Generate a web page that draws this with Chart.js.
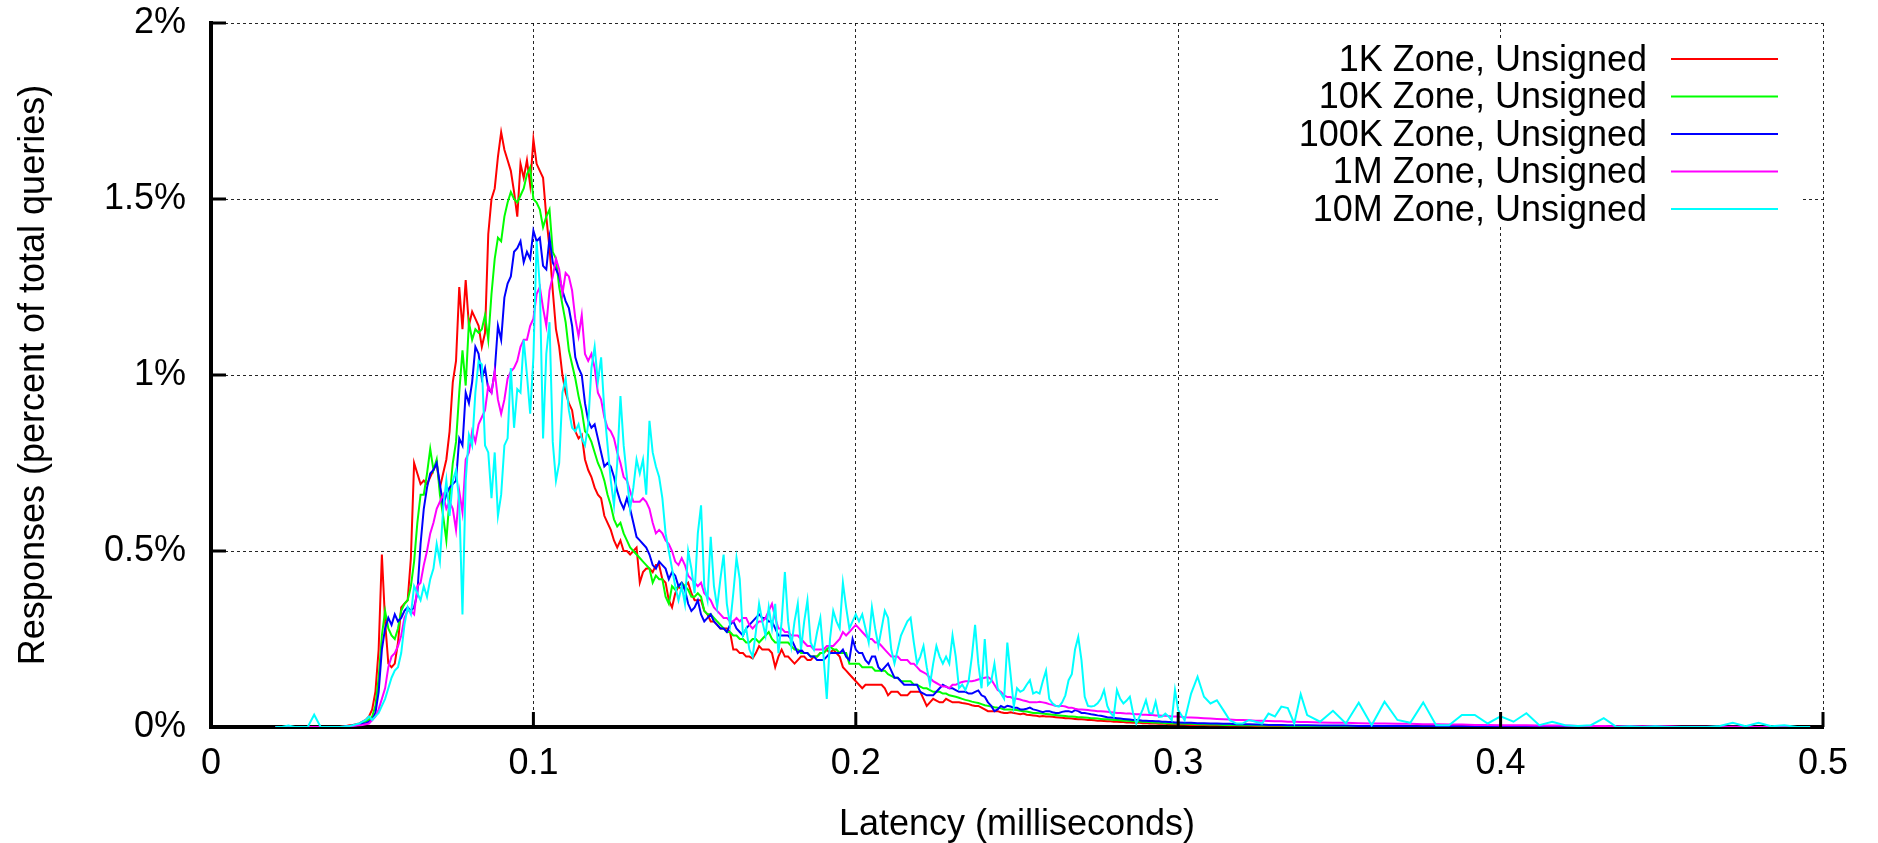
<!DOCTYPE html>
<html>
<head>
<meta charset="utf-8">
<title>Latency distribution, unsigned zones</title>
<script src="https://cdn.jsdelivr.net/npm/chart.js@4.4.1/dist/chart.umd.min.js"></script>
<style>
    html, body {
        margin: 0;
        padding: 0;
        background: #fff;
    }

    #wrap {
        width: 1878px;
        height: 843px;
    }
</style>
</head>
<body>
<div id="wrap"><canvas id="latencyChart"></canvas></div>
<script>
// latency buckets (ms), 10 per line
const latencyMs = [
    0.020, 0.022, 0.024, 0.026, 0.028, 0.030, 0.032, 0.034, 0.036, 0.038,
    0.040, 0.041, 0.042, 0.043, 0.044, 0.045, 0.046, 0.047, 0.048, 0.049,
    0.050, 0.051, 0.052, 0.053, 0.054, 0.055, 0.056, 0.057, 0.058, 0.059,
    0.060, 0.061, 0.062, 0.063, 0.064, 0.065, 0.066, 0.067, 0.068, 0.069,
    0.070, 0.071, 0.072, 0.073, 0.074, 0.075, 0.076, 0.077, 0.078, 0.079,
    0.080, 0.081, 0.082, 0.083, 0.084, 0.085, 0.086, 0.087, 0.088, 0.089,
    0.090, 0.091, 0.092, 0.093, 0.094, 0.095, 0.096, 0.097, 0.098, 0.099,
    0.100, 0.101, 0.102, 0.103, 0.104, 0.105, 0.106, 0.107, 0.108, 0.109,
    0.110, 0.111, 0.112, 0.113, 0.114, 0.115, 0.116, 0.117, 0.118, 0.119,
    0.120, 0.121, 0.122, 0.123, 0.124, 0.125, 0.126, 0.127, 0.128, 0.129,
    0.130, 0.131, 0.132, 0.133, 0.134, 0.135, 0.136, 0.137, 0.138, 0.139,
    0.140, 0.141, 0.142, 0.143, 0.144, 0.145, 0.146, 0.147, 0.148, 0.149,
    0.150, 0.151, 0.152, 0.153, 0.154, 0.155, 0.156, 0.157, 0.158, 0.159,
    0.160, 0.161, 0.162, 0.163, 0.164, 0.165, 0.166, 0.167, 0.168, 0.169,
    0.170, 0.171, 0.172, 0.173, 0.174, 0.175, 0.176, 0.177, 0.178, 0.179,
    0.180, 0.181, 0.182, 0.183, 0.184, 0.185, 0.186, 0.187, 0.188, 0.189,
    0.190, 0.191, 0.192, 0.193, 0.194, 0.195, 0.196, 0.197, 0.198, 0.199,
    0.200, 0.201, 0.202, 0.203, 0.204, 0.205, 0.206, 0.207, 0.208, 0.209,
    0.210, 0.211, 0.212, 0.213, 0.214, 0.215, 0.216, 0.217, 0.218, 0.219,
    0.220, 0.221, 0.222, 0.223, 0.224, 0.225, 0.226, 0.227, 0.228, 0.229,
    0.230, 0.231, 0.232, 0.233, 0.234, 0.235, 0.236, 0.237, 0.238, 0.239,
    0.240, 0.241, 0.242, 0.243, 0.244, 0.245, 0.246, 0.247, 0.248, 0.249,
    0.250, 0.251, 0.252, 0.253, 0.254, 0.255, 0.256, 0.257, 0.258, 0.259,
    0.260, 0.261, 0.262, 0.263, 0.264, 0.265, 0.266, 0.267, 0.268, 0.269,
    0.270, 0.271, 0.272, 0.273, 0.274, 0.275, 0.276, 0.277, 0.278, 0.279,
    0.280, 0.281, 0.282, 0.283, 0.284, 0.285, 0.286, 0.287, 0.288, 0.289,
    0.290, 0.291, 0.292, 0.293, 0.294, 0.295, 0.296, 0.297, 0.298, 0.299,
    0.300, 0.302, 0.304, 0.306, 0.308, 0.310, 0.312, 0.314, 0.316, 0.318,
    0.320, 0.322, 0.324, 0.326, 0.328, 0.330, 0.332, 0.334, 0.336, 0.338,
    0.340, 0.344, 0.348, 0.352, 0.356, 0.360, 0.364, 0.368, 0.372, 0.376,
    0.380, 0.384, 0.388, 0.392, 0.396, 0.400, 0.404, 0.408, 0.412, 0.416,
    0.420, 0.424, 0.428, 0.432, 0.436, 0.440, 0.444, 0.448, 0.452, 0.456,
    0.460, 0.464, 0.468, 0.472, 0.476, 0.480, 0.484, 0.488, 0.492, 0.496
];

// percent of total queries
const zone1k = [
    0, 0, 0, 0, 0, 0, 0, 0, 0, 0,
    0, 0.002, 0.003, 0.005, 0.006, 0.008, 0.01, 0.015, 0.02, 0.03,
    0.05, 0.10, 0.22, 0.49, 0.30, 0.18, 0.17, 0.18, 0.24, 0.34,
    0.35, 0.36, 0.48, 0.75, 0.72, 0.69, 0.70, 0.69, 0.71, 0.73,
    0.75, 0.68, 0.72, 0.76, 0.84, 0.98, 1.04, 1.25, 1.13, 1.27,
    1.14, 1.18, 1.16, 1.14, 1.08, 1.12, 1.40, 1.50, 1.53, 1.62,
    1.69, 1.64, 1.61, 1.58, 1.52, 1.45, 1.60, 1.56, 1.61, 1.54,
    1.67, 1.60, 1.58, 1.56, 1.45, 1.36, 1.24, 1.13, 1.08, 1.00,
    0.95, 0.92, 0.90, 0.84, 0.82, 0.83, 0.76, 0.73, 0.71, 0.68,
    0.66, 0.65, 0.60, 0.58, 0.56, 0.53, 0.51, 0.53, 0.50, 0.50,
    0.49, 0.50, 0.51, 0.41, 0.44, 0.45, 0.45, 0.44, 0.46, 0.46,
    0.42, 0.41, 0.36, 0.34, 0.38, 0.40, 0.39, 0.40, 0.41, 0.38,
    0.36, 0.36, 0.36, 0.33, 0.32, 0.30, 0.30, 0.29, 0.28, 0.28,
    0.28, 0.27, 0.22, 0.22, 0.21, 0.21, 0.20, 0.20, 0.195, 0.21,
    0.23, 0.22, 0.22, 0.22, 0.21, 0.17, 0.20, 0.22, 0.20, 0.20,
    0.19, 0.18, 0.19, 0.20, 0.20, 0.19, 0.19, 0.20, 0.20, 0.21,
    0.21, 0.22, 0.21, 0.22, 0.21, 0.20, 0.17, 0.16, 0.15, 0.14,
    0.13, 0.12, 0.11, 0.12, 0.12, 0.12, 0.12, 0.12, 0.12, 0.11,
    0.09, 0.10, 0.10, 0.10, 0.09, 0.09, 0.09, 0.10, 0.10, 0.10,
    0.10, 0.08, 0.06, 0.07, 0.08, 0.075, 0.07, 0.07, 0.08, 0.075,
    0.07, 0.07, 0.07, 0.068, 0.067, 0.065, 0.062, 0.06, 0.06, 0.055,
    0.05, 0.045, 0.045, 0.045, 0.045, 0.042, 0.04, 0.04, 0.042, 0.04,
    0.038, 0.036, 0.038, 0.035, 0.034, 0.033, 0.032, 0.03, 0.031, 0.03,
    0.03, 0.029, 0.028, 0.027, 0.026, 0.025, 0.025, 0.024, 0.023, 0.022,
    0.022, 0.021, 0.02, 0.02, 0.019, 0.018, 0.018, 0.017, 0.016, 0.016,
    0.015, 0.015, 0.014, 0.014, 0.013, 0.013, 0.012, 0.012, 0.012, 0.011,
    0.011, 0.01, 0.01, 0.01, 0.009, 0.009, 0.009, 0.008, 0.008, 0.008,
    0.007, 0.007, 0.006, 0.006, 0.006, 0.005, 0.005, 0.005, 0.004, 0.004,
    0.004, 0.004, 0.003, 0.003, 0.003, 0.003, 0.003, 0.002, 0.002, 0.002,
    0.002, 0.002, 0.002, 0.001, 0.001, 0.001, 0.001, 0.001, 0.001, 0.001,
    0.001, 0.001, 0.001, 0.001, 0.001, 0, 0, 0, 0, 0,
    0, 0, 0, 0, 0, 0, 0, 0, 0, 0,
    0, 0, 0, 0, 0, 0, 0, 0, 0, 0
];

const zone10k = [
    0, 0, 0, 0, 0, 0, 0, 0, 0, 0,
    0, 0.001, 0.002, 0.003, 0.004, 0.005, 0.008, 0.01, 0.015, 0.02,
    0.03, 0.06, 0.14, 0.26, 0.33, 0.28, 0.26, 0.25, 0.28, 0.33,
    0.35, 0.36, 0.40, 0.47, 0.58, 0.66, 0.66, 0.72, 0.79, 0.73,
    0.76, 0.66, 0.60, 0.53, 0.65, 0.75, 0.81, 0.95, 1.07, 0.97,
    1.15, 1.10, 1.13, 1.12, 1.13, 1.17, 1.10, 1.23, 1.33, 1.39,
    1.38, 1.45, 1.49, 1.52, 1.50, 1.49, 1.51, 1.53, 1.57, 1.59,
    1.50, 1.49, 1.47, 1.42, 1.45, 1.47, 1.35, 1.33, 1.25, 1.20,
    1.15, 1.07, 1.03, 0.99, 0.94, 0.90, 0.84, 0.83, 0.81, 0.78,
    0.75, 0.73, 0.70, 0.66, 0.63, 0.59, 0.57, 0.58, 0.55, 0.53,
    0.51, 0.50, 0.49, 0.48, 0.47, 0.46, 0.45, 0.41, 0.43, 0.42,
    0.42, 0.37, 0.35, 0.40, 0.39, 0.40, 0.41, 0.40, 0.39, 0.37,
    0.37, 0.38, 0.37, 0.33, 0.32, 0.32, 0.31, 0.30, 0.29, 0.28,
    0.27, 0.27, 0.26, 0.26, 0.25, 0.25, 0.24, 0.24, 0.25, 0.25,
    0.24, 0.25, 0.26, 0.27, 0.25, 0.24, 0.24, 0.24, 0.24, 0.24,
    0.23, 0.22, 0.22, 0.21, 0.21, 0.21, 0.20, 0.20, 0.20, 0.21,
    0.21, 0.22, 0.23, 0.22, 0.22, 0.21, 0.21, 0.21, 0.18, 0.18,
    0.18, 0.18, 0.17, 0.17, 0.17, 0.17, 0.16, 0.16, 0.16, 0.16,
    0.15, 0.145, 0.14, 0.14, 0.13, 0.13, 0.13, 0.13, 0.12, 0.12,
    0.115, 0.11, 0.11, 0.105, 0.10, 0.10, 0.10, 0.095, 0.095, 0.09,
    0.088, 0.086, 0.083, 0.08, 0.077, 0.075, 0.072, 0.07, 0.068, 0.065,
    0.062, 0.06, 0.058, 0.056, 0.055, 0.053, 0.05, 0.05, 0.05, 0.049,
    0.048, 0.046, 0.045, 0.044, 0.042, 0.04, 0.04, 0.039, 0.038, 0.037,
    0.036, 0.035, 0.034, 0.033, 0.032, 0.031, 0.03, 0.03, 0.029, 0.028,
    0.028, 0.027, 0.026, 0.025, 0.025, 0.024, 0.023, 0.022, 0.022, 0.021,
    0.02, 0.02, 0.019, 0.018, 0.018, 0.017, 0.016, 0.016, 0.015, 0.015,
    0.014, 0.014, 0.013, 0.013, 0.012, 0.012, 0.011, 0.011, 0.01, 0.01,
    0.01, 0.009, 0.009, 0.008, 0.008, 0.007, 0.007, 0.006, 0.006, 0.006,
    0.005, 0.005, 0.005, 0.004, 0.004, 0.004, 0.004, 0.003, 0.003, 0.003,
    0.003, 0.003, 0.002, 0.002, 0.002, 0.002, 0.001, 0.001, 0.001, 0.001,
    0.001, 0.001, 0.001, 0.001, 0.001, 0.001, 0, 0, 0, 0,
    0, 0, 0, 0, 0, 0, 0, 0, 0, 0,
    0, 0, 0, 0, 0, 0, 0, 0, 0, 0
];

const zone100k = [
    0, 0, 0, 0, 0, 0, 0, 0, 0, 0,
    0, 0.001, 0.002, 0.003, 0.004, 0.005, 0.006, 0.01, 0.01, 0.015,
    0.02, 0.04, 0.10, 0.22, 0.28, 0.31, 0.29, 0.32, 0.30, 0.31,
    0.33, 0.34, 0.33, 0.34, 0.38, 0.52, 0.62, 0.68, 0.72, 0.73,
    0.75, 0.69, 0.63, 0.66, 0.68, 0.69, 0.70, 0.82, 0.80, 0.95,
    0.92, 0.98, 1.08, 1.06, 0.99, 1.02, 0.96, 0.95, 1.01, 1.14,
    1.10, 1.22, 1.26, 1.28, 1.35, 1.36, 1.38, 1.32, 1.35, 1.33,
    1.41, 1.38, 1.39, 1.31, 1.30, 1.39, 1.32, 1.30, 1.28, 1.24,
    1.21, 1.19, 1.14, 1.05, 1.02, 1.00, 0.92, 0.87, 0.85, 0.86,
    0.82, 0.78, 0.74, 0.75, 0.74, 0.71, 0.67, 0.64, 0.62, 0.65,
    0.62, 0.58, 0.54, 0.53, 0.52, 0.51, 0.49, 0.46, 0.45, 0.47,
    0.46, 0.45, 0.42, 0.44, 0.43, 0.40, 0.41, 0.39, 0.35, 0.33,
    0.34, 0.36, 0.32, 0.30, 0.31, 0.32, 0.30, 0.29, 0.28, 0.28,
    0.27, 0.29, 0.30, 0.28, 0.27, 0.26, 0.28, 0.29, 0.30, 0.31,
    0.32, 0.31, 0.31, 0.30, 0.30, 0.28, 0.26, 0.26, 0.26, 0.26,
    0.25, 0.23, 0.21, 0.22, 0.21, 0.21, 0.20, 0.20, 0.19, 0.19,
    0.19, 0.20, 0.21, 0.21, 0.21, 0.21, 0.22, 0.20, 0.19, 0.25,
    0.22, 0.21, 0.21, 0.19, 0.18, 0.20, 0.20, 0.17, 0.16, 0.17,
    0.18, 0.16, 0.14, 0.14, 0.13, 0.12, 0.12, 0.12, 0.12, 0.12,
    0.10, 0.095, 0.09, 0.09, 0.09, 0.10, 0.11, 0.12, 0.115, 0.11,
    0.11, 0.105, 0.10, 0.10, 0.10, 0.095, 0.095, 0.10, 0.104, 0.09,
    0.086, 0.07, 0.06, 0.045, 0.05, 0.06, 0.055, 0.06, 0.058, 0.055,
    0.055, 0.05, 0.05, 0.052, 0.055, 0.05, 0.048, 0.045, 0.042, 0.045,
    0.045, 0.042, 0.04, 0.04, 0.043, 0.045, 0.045, 0.042, 0.048, 0.045,
    0.04, 0.04, 0.038, 0.036, 0.035, 0.033, 0.032, 0.03, 0.028, 0.027,
    0.026, 0.025, 0.024, 0.023, 0.022, 0.021, 0.02, 0.02, 0.019, 0.018,
    0.018, 0.017, 0.017, 0.016, 0.016, 0.015, 0.015, 0.014, 0.014, 0.013,
    0.013, 0.012, 0.012, 0.011, 0.011, 0.01, 0.01, 0.009, 0.009, 0.008,
    0.008, 0.008, 0.007, 0.007, 0.006, 0.006, 0.006, 0.005, 0.005, 0.005,
    0.005, 0.004, 0.004, 0.004, 0.003, 0.003, 0.003, 0.003, 0.002, 0.002,
    0.002, 0.002, 0.002, 0.002, 0.001, 0.001, 0.001, 0.001, 0.001, 0.001,
    0.001, 0.001, 0.001, 0.001, 0, 0, 0, 0, 0, 0,
    0, 0, 0, 0, 0, 0, 0, 0, 0, 0
];

const zone1m = [
    0, 0, 0, 0, 0, 0, 0, 0, 0, 0,
    0, 0, 0.001, 0.002, 0.003, 0.004, 0.005, 0.006, 0.008, 0.01,
    0.02, 0.03, 0.05, 0.08, 0.11, 0.17, 0.20, 0.21, 0.23, 0.26,
    0.31, 0.33, 0.33, 0.32, 0.40, 0.41, 0.46, 0.50, 0.55, 0.58,
    0.62, 0.64, 0.66, 0.62, 0.64, 0.62, 0.56, 0.67, 0.61, 0.76,
    0.78, 0.84, 0.81, 0.86, 0.88, 0.90, 0.97, 0.95, 1.01, 0.93,
    0.89, 0.93, 0.99, 1.01, 1.02, 1.04, 1.08, 1.10, 1.10, 1.14,
    1.16, 1.23, 1.25, 1.19, 1.14, 1.24, 1.28, 1.33, 1.30, 1.23,
    1.29, 1.28, 1.24, 1.16, 1.11, 1.17, 1.06, 1.04, 1.06, 1.02,
    0.95, 0.93, 0.88, 0.85, 0.84, 0.82, 0.78, 0.75, 0.71, 0.70,
    0.67, 0.64, 0.64, 0.64, 0.65, 0.64, 0.62, 0.58, 0.55, 0.56,
    0.55, 0.53, 0.52, 0.50, 0.47, 0.46, 0.48, 0.46, 0.43, 0.42,
    0.41, 0.40, 0.41, 0.38, 0.37, 0.36, 0.34, 0.33, 0.32, 0.31,
    0.31, 0.30, 0.30, 0.31, 0.30, 0.31, 0.31, 0.29, 0.28, 0.29,
    0.30, 0.30, 0.31, 0.33, 0.35, 0.31, 0.28, 0.28, 0.27, 0.27,
    0.26, 0.26, 0.26, 0.25, 0.24, 0.23, 0.23, 0.22, 0.22, 0.22,
    0.22, 0.23, 0.23, 0.23, 0.24, 0.25, 0.27, 0.26, 0.27, 0.28,
    0.29, 0.28, 0.27, 0.26, 0.25, 0.25, 0.24, 0.24, 0.23, 0.22,
    0.21, 0.20, 0.20, 0.20, 0.19, 0.19, 0.19, 0.18, 0.18, 0.17,
    0.16, 0.155, 0.15, 0.14, 0.13, 0.125, 0.12, 0.115, 0.115, 0.11,
    0.12, 0.12, 0.125, 0.128, 0.13, 0.13, 0.13, 0.132, 0.135, 0.138,
    0.14, 0.142, 0.135, 0.12, 0.105, 0.10, 0.09, 0.085, 0.085, 0.08,
    0.08, 0.078, 0.075, 0.073, 0.07, 0.07, 0.07, 0.072, 0.07, 0.068,
    0.065, 0.063, 0.06, 0.06, 0.06, 0.058, 0.055, 0.055, 0.052, 0.05,
    0.05, 0.049, 0.048, 0.047, 0.046, 0.045, 0.045, 0.044, 0.043, 0.042,
    0.041, 0.04, 0.04, 0.039, 0.038, 0.038, 0.037, 0.036, 0.036, 0.035,
    0.035, 0.034, 0.034, 0.033, 0.033, 0.032, 0.032, 0.031, 0.03, 0.03,
    0.03, 0.028, 0.027, 0.026, 0.025, 0.024, 0.023, 0.022, 0.021, 0.02,
    0.02, 0.019, 0.018, 0.018, 0.017, 0.016, 0.016, 0.015, 0.015, 0.014,
    0.014, 0.013, 0.012, 0.012, 0.011, 0.01, 0.01, 0.009, 0.009, 0.008,
    0.008, 0.007, 0.007, 0.006, 0.006, 0.005, 0.005, 0.005, 0.004, 0.004,
    0.004, 0.003, 0.003, 0.003, 0.002, 0.002, 0.002, 0.002, 0.002, 0.001,
    0.001, 0.001, 0.001, 0.001, 0.001, 0, 0, 0, 0, 0
];

const zone10m = [
    0, 0, 0.004, 0, 0, 0, 0.035, 0, 0, 0,
    0, 0.001, 0.002, 0.003, 0.005, 0.008, 0.01, 0.015, 0.02, 0.03,
    0.02, 0.03, 0.04, 0.06, 0.08, 0.11, 0.14, 0.16, 0.17, 0.21,
    0.29, 0.34, 0.32, 0.40, 0.38, 0.36, 0.40, 0.37, 0.42, 0.45,
    0.52, 0.47, 0.62, 0.70, 0.60, 0.70, 0.73, 0.64, 0.32, 0.70,
    0.83, 0.80, 0.95, 1.04, 1.03, 0.80, 0.78, 0.65, 0.78, 0.60,
    0.66, 0.80, 0.82, 1.02, 0.85, 0.96, 0.95, 1.10, 1.00, 0.89,
    1.05, 1.38, 1.25, 0.82, 1.06, 1.15, 0.81, 0.70, 0.75, 0.95,
    0.99, 0.90, 0.85, 0.84, 0.86, 0.82, 0.80, 0.86, 1.02, 1.08,
    0.98, 1.05, 0.90, 0.80, 0.70, 0.63, 0.75, 0.94, 0.80, 0.71,
    0.62, 0.68, 0.76, 0.72, 0.76, 0.66, 0.87, 0.78, 0.74, 0.71,
    0.65, 0.55, 0.50, 0.45, 0.40, 0.36, 0.40, 0.35, 0.50, 0.45,
    0.38, 0.55, 0.63, 0.40, 0.36, 0.54, 0.40, 0.34, 0.42, 0.49,
    0.35, 0.29, 0.38, 0.48, 0.42, 0.26, 0.28, 0.22, 0.20, 0.27,
    0.35, 0.30, 0.26, 0.34, 0.28, 0.35, 0.21, 0.30, 0.44, 0.30,
    0.23, 0.30, 0.35, 0.22, 0.30, 0.36, 0.24, 0.22, 0.27, 0.31,
    0.20, 0.08, 0.25, 0.33, 0.30, 0.28, 0.41, 0.34, 0.28, 0.30,
    0.32, 0.30, 0.32, 0.28, 0.24, 0.34, 0.28, 0.23, 0.28, 0.33,
    0.31, 0.22, 0.18, 0.22, 0.26, 0.28, 0.30, 0.31, 0.24, 0.18,
    0.20, 0.23, 0.17, 0.12, 0.18, 0.23, 0.20, 0.18, 0.20, 0.18,
    0.26, 0.20, 0.11, 0.12, 0.105, 0.13, 0.20, 0.29, 0.18, 0.11,
    0.25, 0.12, 0.13, 0.18, 0.11, 0.095, 0.08, 0.24, 0.15, 0.058,
    0.11, 0.10, 0.105, 0.12, 0.133, 0.095, 0.10, 0.095, 0.13, 0.16,
    0.08, 0.067, 0.06, 0.058, 0.07, 0.09, 0.133, 0.15, 0.22, 0.256,
    0.19, 0.086, 0.06, 0.058, 0.06, 0.067, 0.08, 0.105, 0.06, 0.04,
    0.03, 0.105, 0.08, 0.067, 0.075, 0.086, 0.04, 0.01, 0.029, 0.05,
    0.076, 0.04, 0.038, 0.072, 0.029, 0.03, 0.038, 0.03, 0.019, 0.105,
    0.048, 0.019, 0.095, 0.143, 0.086, 0.067, 0.076, 0.048, 0.019, 0.01,
    0.01, 0.02, 0.015, 0.01, 0.038, 0.03, 0.058, 0.054, 0.01, 0.093,
    0.034, 0.015, 0.046, 0.01, 0.069, 0.005, 0.072, 0.02, 0.012, 0.07,
    0.005, 0.005, 0.034, 0.034, 0.01, 0.03, 0.015, 0.039, 0.005, 0.015,
    0.005, 0.003, 0.005, 0.025, 0, 0.002, 0, 0.002, 0, 0,
    0, 0, 0.003, 0.012, 0.002, 0.012, 0.002, 0.005, 0, 0
];

const seriesLabels = [
    "1K Zone, Unsigned",
    "10K Zone, Unsigned",
    "100K Zone, Unsigned",
    "1M Zone, Unsigned",
    "10M Zone, Unsigned"
];
const seriesColors = ["#ff0000", "#00ff00", "#0000ff", "#ff00ff", "#00ffff"];
const seriesValues = [zone1k, zone10k, zone100k, zone1m, zone10m];

const xTickValues = [0, 0.1, 0.2, 0.3, 0.4, 0.5];
const xTickLabels = ["0", "0.1", "0.2", "0.3", "0.4", "0.5"];
const yTickValues = [0, 0.5, 1, 1.5, 2];
const yTickLabels = ["0%", "0.5%", "1%", "1.5%", "2%"];

seriesValues.forEach((values, i) => {
    if (values.length !== latencyMs.length) {
        throw new Error(`${seriesLabels[i]}: ${values.length} values for ${latencyMs.length} buckets`);
    }
});

const FONT_FAMILY = "'Liberation Sans', Arial, Helvetica, sans-serif";
const FONT_SIZE = 36;

Chart.defaults.font.family = FONT_FAMILY;
Chart.defaults.color = "#000";

// gnuplot style: short tick marks pointing into the plot
const inwardTicks = {
    id: "inwardTicks",
    afterDraw(chart) {
        const { ctx, chartArea, scales } = chart;
        ctx.save();
        ctx.strokeStyle = "#000";
        ctx.lineWidth = 3;
        ctx.beginPath();
        xTickValues.forEach((v) => {
            const px = scales.x.getPixelForValue(v);
            ctx.moveTo(px, chartArea.bottom);
            ctx.lineTo(px, chartArea.bottom - 15);
        });
        yTickValues.forEach((v) => {
            const py = scales.y.getPixelForValue(v);
            ctx.moveTo(chartArea.left, py);
            ctx.lineTo(chartArea.left + 15, py);
        });
        ctx.stroke();
        ctx.restore();
    }
};

// key in the top right corner, text right-aligned with the line sample after it
const zoneKey = {
    id: "zoneKey",
    beforeDatasetsDraw(chart) {
        const { ctx, chartArea } = chart;
        const right = chartArea.right;
        const top = chartArea.top;
        ctx.save();
        ctx.fillStyle = "#fff";
        ctx.fillRect(right - 604, top + 18, 581, 185);
        ctx.font = `${FONT_SIZE}px ${FONT_FAMILY}`;
        ctx.textAlign = "right";
        ctx.textBaseline = "middle";
        chart.data.datasets.forEach((ds, i) => {
            const y = top + 36 + i * 37.5;
            ctx.fillStyle = "#000";
            ctx.fillText(ds.label, right - 176, y + 2);
            ctx.strokeStyle = ds.borderColor;
            ctx.lineWidth = 2;
            ctx.beginPath();
            ctx.moveTo(right - 152, y);
            ctx.lineTo(right - 45, y);
            ctx.stroke();
        });
        ctx.restore();
    }
};

const chartCanvas = document.getElementById("latencyChart");

const latencyChart = new Chart(chartCanvas, {
    type: "line",

    data: {
        datasets: seriesValues.map((values, i) => ({
            label: seriesLabels[i],
            data: latencyMs.map((x, j) => ({ x, y: values[j] })),
            borderColor: seriesColors[i],
            backgroundColor: seriesColors[i],
            borderWidth: 2,
            pointRadius: 0,
            tension: 0,
            fill: false,
            // later series are drawn on top, like the original plot
            order: seriesValues.length - i
        }))
    },

    options: {
        responsive: true,
        maintainAspectRatio: false,
        animation: false,
        events: [],

        layout: {
            autoPadding: false,
            padding: { top: 23, right: 55, bottom: 0, left: 0 }
        },

        plugins: {
            legend: { display: false },
            tooltip: { enabled: false }
        },

        scales: {
            x: {
                type: "linear",
                min: 0,
                max: 0.5,
                afterFit(scale) {
                    scale.height = 116;
                    scale.paddingLeft = 0;
                    scale.paddingRight = 0;
                },
                afterBuildTicks(scale) {
                    scale.ticks = xTickValues.map((value) => ({ value }));
                },
                ticks: {
                    autoSkip: false,
                    maxRotation: 0,
                    padding: 15,
                    font: { size: FONT_SIZE },
                    callback(value, index) {
                        return xTickLabels[index];
                    }
                },
                grid: {
                    color: "rgba(0, 0, 0, 0.85)",
                    lineWidth: 1,
                    drawTicks: false
                },
                border: {
                    display: true,
                    color: "#000",
                    width: 4,
                    dash: [3, 3]
                },
                title: {
                    display: true,
                    text: "Latency (milliseconds)",
                    font: { size: FONT_SIZE, lineHeight: 1 },
                    padding: { top: 0, bottom: 0 }
                }
            },

            y: {
                type: "linear",
                min: 0,
                max: 2,
                afterFit(scale) {
                    scale.width = 211;
                    // the label overhang must not push the plot down
                    scale.paddingTop = 0;
                    scale.paddingBottom = 0;
                },
                afterBuildTicks(scale) {
                    scale.ticks = yTickValues.map((value) => ({ value }));
                },
                ticks: {
                    autoSkip: false,
                    padding: 25,
                    font: { size: FONT_SIZE },
                    callback(value, index) {
                        return yTickLabels[index];
                    }
                },
                grid: {
                    color: "rgba(0, 0, 0, 0.85)",
                    lineWidth: 1,
                    drawTicks: false
                },
                border: {
                    display: true,
                    color: "#000",
                    width: 4,
                    dash: [3, 3]
                },
                title: {
                    display: true,
                    text: "Responses (percent of total queries)",
                    font: { size: FONT_SIZE },
                    padding: { top: 12, bottom: 0 }
                }
            }
        }
    },

    plugins: [zoneKey, inwardTicks]
});
</script>
</body>
</html>
